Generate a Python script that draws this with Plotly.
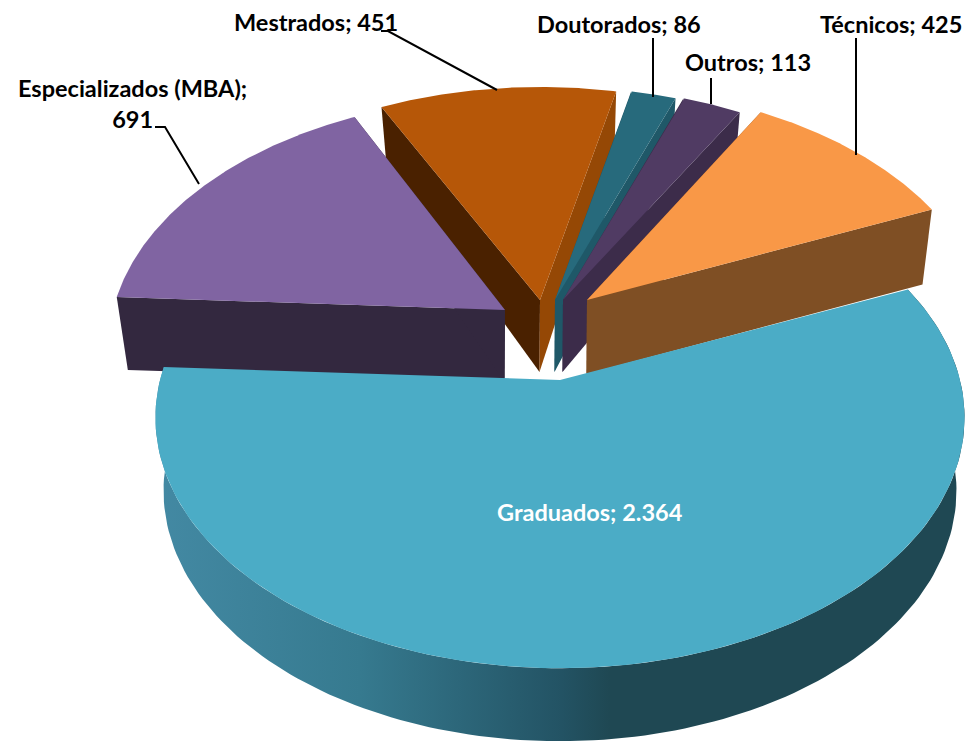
import numpy as np
import plotly.graph_objects as go

# --- data ---
categories = ["Graduados", "Especializados (MBA)", "Mestrados", "Doutorados", "Outros", "Técnicos"]
values = [2364, 691, 451, 86, 113, 425]
value_labels = ["2.364", "691", "451", "86", "113", "425"]

# --- styles ---
top_colors = ["#4BACC6", "#8064A2", "#B65708", "#276A7C", "#503B63", "#F99847"]
left_wall_colors = ["#1F4853", "#33283F", "#4A2100", "#1F5868", "#3C2C4A", "#7F4F24"]
right_wall_colors = ["#1F4853", "#33283F", "#954805", "#1F5868", "#3C2C4A", "#7F4F24"]
arc_dx = [0, -47, -20, -5, 3, 24]
apex_dx = [0, -55, -20, -5, 3, 27]
explode_dy = [0, -70, -80, -80, -80, -80]
wall_extra = [0, 0, 0, 0, 0, 2]
shrink = [0.98, 0.975, 0.975, 0.975, 0.975, 0.975]
draw_order = [2, 3, 4, 5, 1, 0]

label_x = [590, 132, 316, 619, 748, 891]
label_y = [512, 103, 22, 24, 62, 24]
label_color = ["white", "black", "black", "black", "black", "black"]
label_sep = ["; ", ";<br>", "; ", "; ", "; ", "; "]

leader_x = [[381, 388, 497], [155, 165, 199], [653, 653], [711, 711], [856, 856]]
leader_y = [[31, 31, 90], [127, 127, 184], [38, 97], [78, 104], [38, 155]]

# --- projection of the tilted disc ---
CX, CY = 560, 380
B, A, P = 400, 245, 0.15
START = 67.0


def project(theta_deg, r=1.0):
    t = np.radians(theta_deg)
    u, v = r * np.sin(t), -r * np.cos(t)
    s = 1 / (1 - P * v)
    return CX + B * u * s, CY + A * v * s, v


def depth(v):
    return 73 - 25 * np.maximum(0, (-v - 0.4) / 0.6)


def extrude(x, y, v, k, extra=0):
    return CX + (x - CX) * k, y + depth(v) + extra


total = sum(values)
sweeps = [360 * w / total for w in values]
starts = START + np.concatenate([[0], np.cumsum(sweeps)[:-1]])

fig = go.Figure()


def poly(xs, ys, color=None, gradient=None):
    kw = dict(fillgradient=gradient) if gradient else dict(fillcolor=color)
    fig.add_trace(go.Scatter(x=list(xs), y=list(ys), mode="lines", fill="toself",
                             line=dict(width=0, color="rgba(0,0,0,0)"),
                             hoverinfo="skip", showlegend=False, **kw))


for i in draw_order:
    a0, a1 = starts[i], starts[i] + sweeps[i]
    dy = explode_dy[i]
    th = np.linspace(a0, a1, 160)
    ax, ay = CX + apex_dx[i], CY + dy
    ax2 = ax - 0.5
    ay2 = ay + 72 + wall_extra[i]

    ox, oy, ov = project(th)
    ox = ox + arc_dx[i]
    oy = oy + dy
    bx, by = extrude(ox, oy, ov, shrink[i], wall_extra[i])

    if i == 0:
        # outer rim with the horizontal shading
        poly(np.concatenate([ox, bx[::-1]]), np.concatenate([oy, by[::-1]]),
             gradient=dict(type="horizontal", start=158, stop=965,
                           colorscale=[[0, "#4389A3"], [0.25, "#367A8F"],
                                       [0.5, "#235364"], [0.56, "#1F4853"],
                                       [1, "#1F4853"]]))
    else:
        # radial walls
        poly([ax, ox[0], bx[0], ax2], [ay, oy[0], by[0], ay2], color=left_wall_colors[i])
        poly([ax, ox[-1], bx[-1], ax2], [ay, oy[-1], by[-1], ay2], color=right_wall_colors[i])
    # top face
    poly(np.concatenate([[ax], ox, [ax]]), np.concatenate([[ay], oy, [ay]]), color=top_colors[i])

for lx, ly in zip(leader_x, leader_y):
    fig.add_trace(go.Scatter(x=lx, y=ly, mode="lines", line=dict(color="black", width=2),
                             hoverinfo="skip", showlegend=False))

for i, c in enumerate(categories):
    fig.add_annotation(x=label_x[i], y=label_y[i], xanchor="center", yanchor="middle",
                       text=f"<b>{c}{label_sep[i]}{value_labels[i]}</b>", showarrow=False,
                       font=dict(family="Lato", size=23.5, color=label_color[i]))

fig.update_xaxes(range=[0, 979], visible=False, fixedrange=True)
fig.update_yaxes(range=[741, 0], visible=False, fixedrange=True)
fig.update_layout(width=979, height=741, margin=dict(l=0, r=0, t=0, b=0),
                  paper_bgcolor="white", plot_bgcolor="white", showlegend=False)
fig.write_html("out.html", config=dict(displayModeBar=False),
               post_script="document.body.style.margin='0';document.body.style.overflow='hidden';")
